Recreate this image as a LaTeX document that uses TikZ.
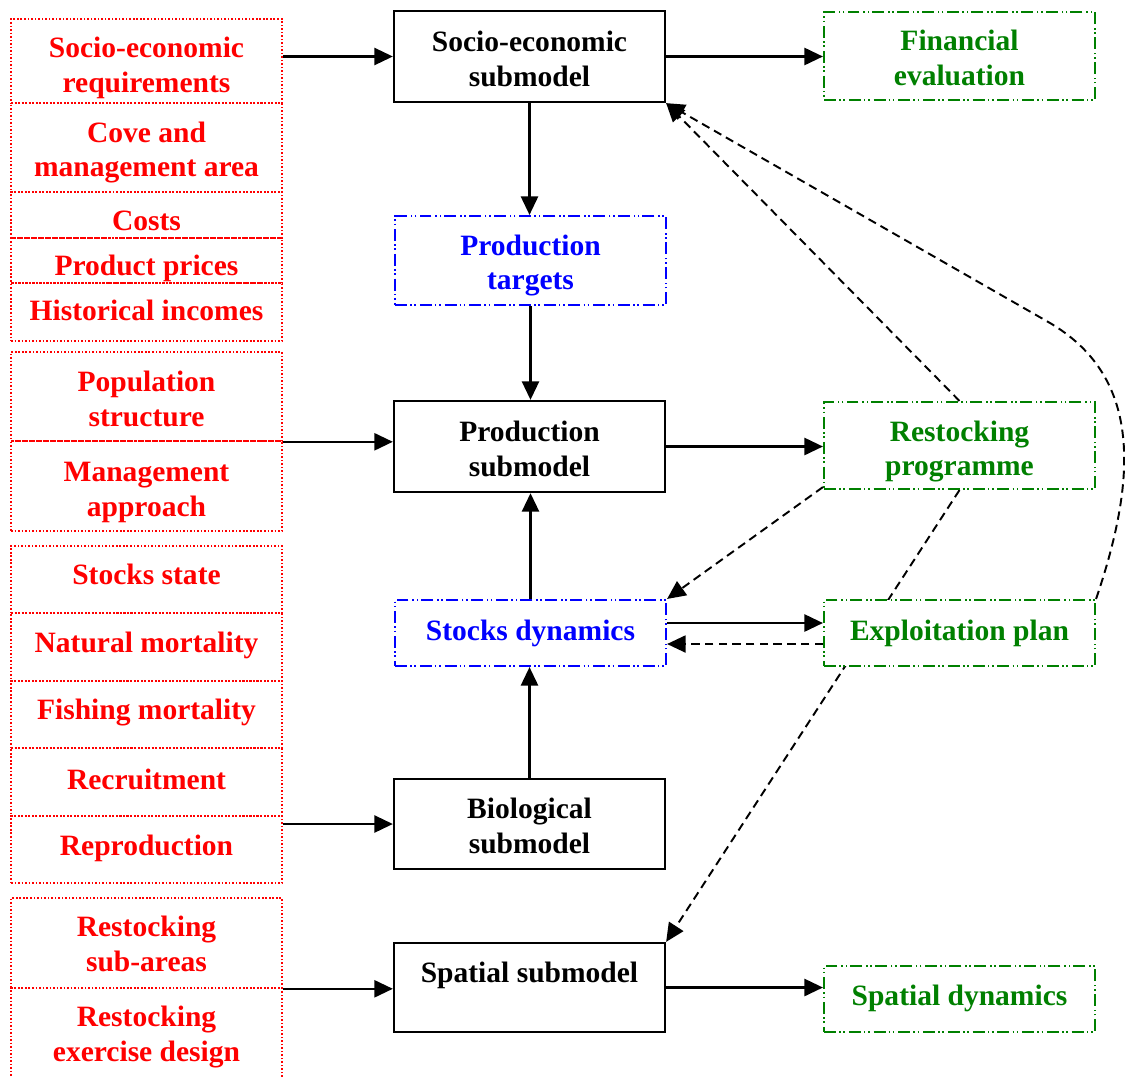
\documentclass[tikz,border=0pt]{standalone}
\usepackage{fontspec}
\setmainfont{Liberation Serif}
\usetikzlibrary{arrows.meta,backgrounds}
\definecolor{inred}{RGB}{255,0,0}
\definecolor{modblue}{RGB}{0,0,255}
\definecolor{outgreen}{RGB}{0,128,0}
\begin{document}
\begin{tikzpicture}[x=0.02cm,y=-0.02cm,
  every node/.style={font=\fontsize{16.8}{19.9}\selectfont\bfseries, align=center, inner sep=0pt},
  boxw/.style={minimum width=#1*0.02cm},
  boxh/.style={minimum height=#1*0.02cm},
  dy/.style={yshift=#1*-0.02cm},
  rt/.style={text=inred},
  bt/.style={text=modblue},
  gt/.style={text=outgreen},
  kt/.style={text=black},
  cell/.style={draw=inred, line width=0.9pt, dash pattern=on 0.9pt off 1.1pt, boxw=271},
  submodel/.style={draw=black, fill=white, line width=1.3pt, boxw=271, boxh=90},
  ddd/.style={line width=1.2pt, dash pattern=on 6.8pt off 1.8pt on 0.9pt off 1.5pt on 0.9pt off 2.2pt},
  interm/.style={ddd, draw=modblue, fill=white, boxw=271},
  result/.style={ddd, draw=outgreen, fill=white, boxw=271},
  arr/.style={line width=1.4pt, -{Triangle[length=0.37cm,width=0.34cm]}},
  darr/.style={arr, line width=1.1pt, dash pattern=on 4.8pt off 3pt},
]
\useasboundingbox (0,0) rectangle (1125,1076);

% input cells, left column
\node[cell, boxh=84, label={[rt,dy=6.5]center:{Socio-economic\\requirements}}] (c1) at (146.5,61) {};
\node[cell, boxh=89, label={[rt,dy=5]center:{Cove and\\management area}}] (c2) at (146.5,147.5) {};
\node[cell, boxh=46, label={[rt,dy=6]center:{Costs}}] (c3) at (146.5,215) {};
\node[cell, boxh=45, label={[rt,dy=8]center:{Product prices}}] (c4) at (146.5,260.5) {};
\node[cell, boxh=58, label={[rt,dy=-2]center:{Historical incomes}}] (c5) at (146.5,312) {};
\node[cell, boxh=89, label={[rt,dy=2]center:{Population\\structure}}] (c6) at (146.5,396.5) {};
\node[cell, boxh=90, label={[rt,dy=6]center:{Management\\approach}}] (c7) at (146.5,486) {};
\node[cell, boxh=67, label={[rt,dy=-5]center:{Stocks state}}] (c8) at (146.5,579.5) {};
\node[cell, boxh=68, label={[rt,dy=-2]center:{Natural mortality}}] (c9) at (146.5,647) {};
\node[cell, boxh=67, label={[rt,dy=-2]center:{Fishing mortality}}] (c10) at (146.5,714.5) {};
\node[cell, boxh=68, label={[rt,dy=-3]center:{Recruitment}}] (c11) at (146.5,782) {};
\node[cell, boxh=67, label={[rt,dy=-1]center:{Reproduction}}] (c12) at (146.5,849.5) {};
\node[cell, boxh=90, label={[rt,dy=1]center:{Restocking\\sub-areas}}] (c13) at (146.5,943) {};
\node[cell, boxh=92, label={[rt,dy=3]center:{Restocking\\exercise design}}] (c14) at (146.5,1034) {};

% submodels and intermediate results, middle column
\node[submodel, boxh=91, label={[kt,dy=2]center:{Socio-economic\\submodel}}] (soc) at (529.5,56.5) {};
\node[interm, boxh=89, label={[bt,dy=5]center:{Production\\targets}}] (ptar) at (530.5,260.5) {};
\node[submodel, boxh=91, label={[kt,dy=2]center:{Production\\submodel}}] (prod) at (529.5,446.5) {};
\node[interm, boxh=66, label={[bt]center:{Stocks dynamics}}] (stock) at (530.5,633) {};
\node[submodel, boxh=90, label={[kt,dy=2]center:{Biological\\submodel}}] (bio) at (529.5,824) {};
\node[submodel, boxh=89, label={[kt,dy=-12]center:{Spatial submodel}}] (spat) at (529.5,987.5) {};

% outputs, right column
\node[result, boxh=88, label={[gt,dy=2]center:{Financial\\evaluation}}] (fin) at (959.5,56) {};
\node[result, boxh=87, label={[gt,dy=6]center:{Restocking\\programme}}] (rprog) at (959.5,445.5) {};
\node[result, boxh=66, label={[gt]center:{Exploitation plan}}] (expl) at (959.5,633) {};
\node[result, boxh=66, label={[gt,dy=-1]center:{Spatial dynamics}}] (sdyn) at (959.5,999) {};

% inputs into submodels
\draw[arr] (c1.east |- soc.west) -- (soc.west);
\draw[arr] (c6.south east) -- (c6.south east -| prod.west);
\draw[arr] (c12.east |- bio.west) -- (bio.west);
\draw[arr] (c13.south east) -- (c13.south east -| spat.west);

% main flow
\draw[arr] (soc.east) -- (soc.east -| fin.west);
\draw[arr] (soc.south) -- (soc.south |- ptar.north);
\draw[arr] (ptar.south) -- (ptar.south |- prod.north);
\draw[arr] (stock.north) -- (stock.north |- prod.south);
\draw[arr] (bio.north) -- (bio.north |- stock.south);
\draw[arr] (prod.east) -- (prod.east -| rprog.west);
\draw[arr] ([yshift=0.2cm]stock.east) -- ([yshift=0.2cm]stock.east -| expl.west);
\draw[arr] (spat.east) -- (spat.east -| sdyn.west);

% feedback links
\draw[darr] ([yshift=-0.22cm]expl.west) -- ([yshift=-0.22cm]expl.west -| stock.east);
\draw[darr] ([yshift=0.06cm]rprog.south west) -- (stock.north east);
\draw[darr] (rprog.north) -- (soc.south east);
\coordinate (bend) at (1050,323);
\draw[darr] (expl.north east) .. controls (1140,470) and (1138,375) .. (bend) -- (soc.south east);
\begin{scope}[on background layer]
\draw[darr] (rprog.south) -- (spat.north east);
\end{scope}
\end{tikzpicture}
\end{document}
